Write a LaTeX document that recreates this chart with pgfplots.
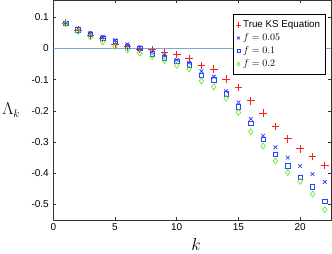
\documentclass[border=0pt]{standalone}
\usepackage{fontspec}
\setmainfont{Liberation Sans}
\usepackage{pgfplots}
\pgfplotsset{compat=1.18}
\definecolor{kred}{RGB}{255,30,30}
\definecolor{kblue}{RGB}{40,70,255}
\definecolor{kgreen}{RGB}{90,230,20}
\definecolor{kline}{RGB}{120,170,230}
\begin{document}
\begin{tikzpicture}
\begin{axis}[
  scale only axis,
  width=277.7pt, height=220pt,
  xmin=0, xmax=22.5, ymin=-0.55, ymax=0.155,
  xtick={0,5,10,15,20},
  ytick={-0.5,-0.4,-0.3,-0.2,-0.1,0,0.1},
  yticklabels={-0.5,-0.4,-0.3,-0.2,-0.1,0,0.1},
  tick align=inside,
  major tick length=3pt,
  axis line style={black!80, line width=0.6pt},
  every tick/.style={black!80, line width=0.5pt},
  tick label style={font=\fontsize{10}{12}\selectfont},
  yticklabel style={xshift=-1pt},
  /pgf/number format/assume math mode=true,
  xlabel={$k$},
  ylabel={$\Lambda_k$},
  xlabel style={font=\fontsize{17}{17}\selectfont, at={(axis description cs:0.514,-0.11)}, anchor=center},
  ylabel style={rotate=-90, font=\fontsize{16}{16}\selectfont, at={(axis description cs:-0.152,0.5)}, anchor=center},
  legend style={at={(rel axis cs:0.98,0.935)}, anchor=north east,
    font=\fontsize{9.8}{11}\selectfont, draw=black, line width=0.6pt,
    inner xsep=3pt, inner ysep=4pt, row sep=0.6pt, cells={anchor=west}},
  legend image post style={scale=0.7},
  legend cell align=left,
]
\addplot[kline, line width=0.8pt, forget plot] coordinates {(0,0) (22.5,0)};
\addplot[only marks, mark=+, mark size=3.8pt, kred, mark options={solid}, line width=0.8pt] table {
1 0.081
2 0.059
3 0.043
4 0.031
5 0.014
6 0.005
7 -0.002
8 -0.003
9 -0.014
10 -0.020
11 -0.033
12 -0.055
13 -0.067
14 -0.098
15 -0.125
16 -0.168
17 -0.208
18 -0.251
19 -0.290
20 -0.322
21 -0.347
22 -0.375
};
\addlegendentry{True KS Equation}
\addplot[only marks, mark=x, mark size=2.6pt, kblue, mark options={solid}, line width=0.75pt] table {
1 0.082
2 0.063
3 0.050
4 0.037
5 0.026
6 0.013
7 0.003
8 -0.012
9 -0.022
10 -0.037
11 -0.046
12 -0.073
13 -0.091
14 -0.137
15 -0.173
16 -0.226
17 -0.280
18 -0.317
19 -0.350
20 -0.377
21 -0.403
22 -0.428
};
\addlegendentry{$f = 0.05$}
\addplot[only marks, mark=square, mark size=2.2pt, kblue, mark options={solid}, line width=0.6pt] table {
1 0.081
2 0.060
3 0.046
4 0.033
5 0.022
6 0.006
7 0.001
8 -0.017
9 -0.030
10 -0.042
11 -0.053
12 -0.087
13 -0.101
14 -0.146
15 -0.187
16 -0.240
17 -0.292
18 -0.340
19 -0.376
20 -0.413
21 -0.443
22 -0.491
};
\addlegendentry{$f = 0.1$}
\addplot[only marks, mark=diamond, mark size=3pt, kgreen, mark options={solid}, line width=0.6pt] table {
1 0.079
2 0.054
3 0.036
4 0.021
5 0.006
6 -0.005
7 -0.015
8 -0.026
9 -0.039
10 -0.054
11 -0.066
12 -0.104
13 -0.123
14 -0.160
15 -0.205
16 -0.267
17 -0.313
18 -0.361
19 -0.398
20 -0.426
21 -0.467
22 -0.517
};
\addlegendentry{$f = 0.2$}
\end{axis}
\pgfresetboundingbox
\path ([xshift=-53.3pt,yshift=-33pt]current axis.south west) rectangle ([xshift=1pt,yshift=0pt]current axis.north east);
\end{tikzpicture}
\end{document}
